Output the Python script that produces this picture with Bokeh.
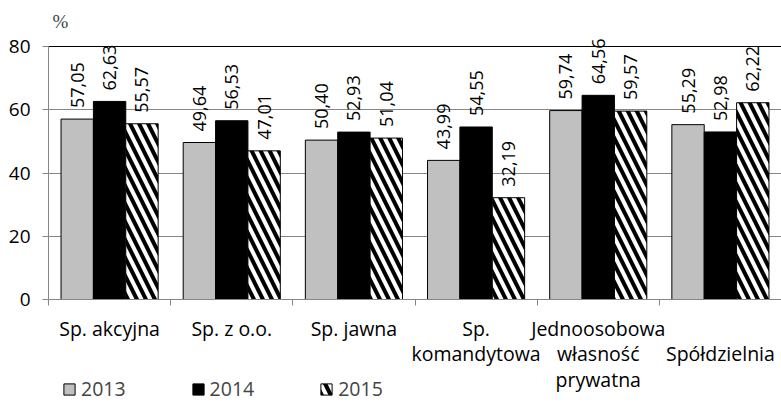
import numpy as np
from bokeh.plotting import figure
from bokeh.layouts import column
from bokeh.core.properties import value
from bokeh.models import (ColumnDataSource, Range1d, FixedTicker, LabelSet, Label,
                          Legend, LegendItem, Span)
from bokeh.transform import dodge
from bokeh.embed import file_html
from bokeh.resources import INLINE

# category names; "\n" separates the wrapped lines (a leading one drops the name a line)
categories = ["Sp. akcyjna", "Sp. z o.o.", "Sp. jawna", "Sp.\nkomandytowa",
              "Jednoosobowa\nwłasność\nprywatna", "\nSpółdzielnia"]
v2013 = [57.05, 49.64, 50.40, 43.99, 59.74, 55.29]
v2014 = [62.63, 56.53, 52.93, 54.55, 64.56, 52.98]
v2015 = [55.57, 47.01, 51.04, 32.19, 59.57, 62.22]
years = ["2013", "2014", "2015"]
y_ticks = [0, 20, 40, 60, 80]

def fmt(vals):
    return [f"{v:.2f}".replace(".", ",") for v in vals]

n = len(categories)
centers = list(np.arange(n) + 0.5)
src = ColumnDataSource(dict(cx=centers, a=v2013, b=v2014, c=v2015,
                            la=fmt(v2013), lb=fmt(v2014), lc=fmt(v2015)))

LINE_STEP = 25.5
cx_l, txt_l, off_l = [], [], []
for c, name in zip(centers, categories):
    for j, line in enumerate(name.split("\n")):
        if not line:
            continue
        cx_l.append(c)
        txt_l.append(line)
        off_l.append(-(3 + j * LINE_STEP))
cat_src = ColumnDataSource(dict(cx=cx_l, name=txt_l, yo=off_l, top=[1] * len(cx_l)))

FONT = value("Open Sans")
GRAY = "#868686"
W = 0.265
FRAME_H = 299
MAIN_H = 311
STRIP_H = 402 - MAIN_H
Y_TOP = 80 * FRAME_H / 253.0   # room above 80 for the value labels and "%"

STY = [dict(fill_color="#c0c0c0", line_color="black", line_width=1),
       dict(fill_color="black", line_color="black", line_width=1),
       dict(fill_color="white", line_color="black", line_width=1,
            hatch_pattern="\\", hatch_color="black", hatch_scale=18, hatch_weight=4)]
COLS = [("a", "la", -W), ("b", "lb", 0), ("c", "lc", W)]

p = figure(width=781, height=MAIN_H, output_backend="svg", toolbar_location=None,
           x_range=Range1d(0, n), y_range=Range1d(0, Y_TOP),
           min_border_left=48, min_border_right=0, min_border_top=0,
           min_border_bottom=MAIN_H - FRAME_H)
p.outline_line_color = None

for (ycol, lcol, off), sty in zip(COLS, STY):
    p.vbar(x=dodge("cx", off), top=ycol, width=W, source=src, **sty)
    p.add_layout(LabelSet(x=dodge("cx", off), y=ycol, text=lcol, source=src,
                          angle=np.pi / 2, text_align="left", text_baseline="middle",
                          y_offset=11, text_font=FONT, text_font_size="18px",
                          text_color="black"))

# top line at 80
p.add_layout(Span(location=80, dimension="width", line_color="black", line_width=1))

# y axis
p.yaxis.ticker = FixedTicker(ticks=y_ticks)
p.yaxis.bounds = (0, 80)
p.yaxis.axis_line_color = GRAY
p.yaxis.major_tick_line_color = GRAY
p.yaxis.major_tick_out = 6
p.yaxis.major_tick_in = 0
p.yaxis.minor_tick_line_color = None
p.yaxis.major_label_standoff = 12
p.yaxis.major_label_text_font = "Open Sans"
p.yaxis.major_label_text_font_size = "19px"
p.yaxis.major_label_text_color = "black"

# x axis: line and category boundary ticks (names are set in the strip below)
p.xaxis.ticker = FixedTicker(ticks=centers, minor_ticks=list(range(n + 1)))
p.xaxis.major_label_overrides = {c: "" for c in centers}
p.xaxis.major_label_text_font_size = "1px"
p.xaxis.major_label_standoff = 0
p.xaxis.axis_line_color = GRAY
p.xaxis.major_tick_line_color = None
p.xaxis.major_tick_out = 0
p.xaxis.major_tick_in = 0
p.xaxis.minor_tick_line_color = GRAY
p.xaxis.minor_tick_out = 6
p.xaxis.minor_tick_in = 0

p.xgrid.grid_line_color = None
p.ygrid.ticker = FixedTicker(ticks=y_ticks[1:-1])
p.ygrid.grid_line_color = GRAY

p.add_layout(Label(x=0, y=80, x_units="data", y_units="data", text="%",
                   x_offset=4, y_offset=15, text_align="left", text_baseline="bottom",
                   text_font="Liberation Serif", text_font_size="19px"))

# strip below: category names + legend
q = figure(width=781, height=STRIP_H, output_backend="svg", toolbar_location=None,
           x_range=p.x_range, y_range=Range1d(0, 1),
           x_axis_location=None, y_axis_location=None,
           min_border_left=48, min_border_right=0, min_border_top=0, min_border_bottom=0)
q.outline_line_color = None
q.grid.visible = False
q.add_layout(LabelSet(x="cx", y="top", text="name", y_offset="yo", source=cat_src,
                      text_align="center", text_baseline="top",
                      text_font=FONT, text_font_size="19.5px",
                      text_color="black"))

dummies = [q.vbar(x=dodge("cx", off), top=ycol, width=W, source=src, visible=False, **s)
           for (ycol, _, off), s in zip(COLS, STY)]
legend = Legend(items=[LegendItem(label=y, renderers=[r]) for y, r in zip(years, dummies)],
                orientation="horizontal", location=(14, 0),
                glyph_width=14, glyph_height=14, label_standoff=5, spacing=65,
                padding=0, margin=0, border_line_color=None,
                background_fill_alpha=0, label_text_font="Open Sans",
                label_text_font_size="19.5px", label_height=14)
q.add_layout(legend, "center")

open("out.html", "w").write(file_html(column(p, q, spacing=0), INLINE))
